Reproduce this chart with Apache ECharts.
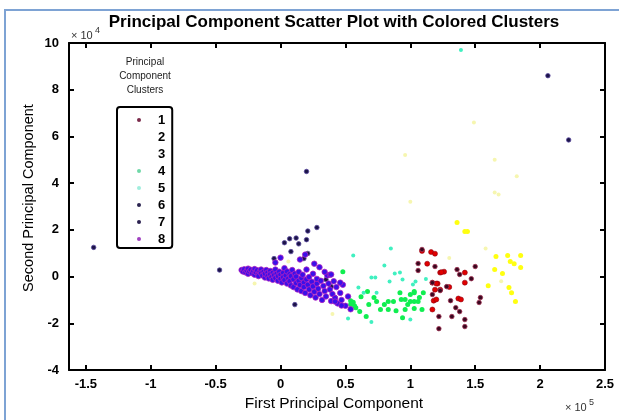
<!DOCTYPE html>
<html>
<head>
<meta charset="utf-8">
<script src="https://cdn.jsdelivr.net/npm/echarts@6/dist/echarts.min.js"></script>
<style>html,body{margin:0;padding:0;background:#fff}#c{width:619px;height:420px}</style>
</head>
<body>
<div id="c"></div>
<script>
// values in displayed units: x in 1e5, y in 1e4
const xTicks = [-1.5, -1, -0.5, 0, 0.5, 1, 1.5, 2, 2.5];
const yTicks = [-4, -2, 0, 2, 4, 6, 8, 10];
const clusterNames = ['1', '2', '3', '4', '5', '6', '7', '8'];

const cluster1 = [[1.09,1.10],[1.16,1.05],[1.19,0.98],[1.23,0.17],[1.26,0.21],[1.24,0.19],[1.42,0.17],[1.42,-0.26],[1.21,-0.30],[1.19,-0.56],[1.18,-1.03],[1.20,-0.98],[1.17,-1.41],[1.37,-0.94],[1.39,-0.98],[1.23,-0.56],[1.17,-0.26],[1.20,-0.30],[1.13,0.55],[1.30,-0.45]];
const cluster2 = [[1.77,0.64],[1.75,0.90],[1.85,0.39],[1.66,0.86],[1.65,0.30],[1.71,0.13],[1.60,-0.39],[1.76,-0.47],[1.78,-0.69],[1.81,-1.07],[1.85,0.90],[1.44,1.93],[1.36,2.31],[1.42,1.93],[1.80,0.55]];
const cluster3 = [[1.68,3.51],[1.49,6.6],[0.96,5.2],[1.65,5.0],[1.65,3.6],[1.0,3.2],[1.82,4.3],[1.58,1.2],[0.06,0.64],[-0.2,-0.3],[0.4,-1.6],[1.3,0.8],[1.7,-0.2]];
const cluster4 = [[0.48,0.21],[0.54,-1.03],[0.54,-1.20],[0.58,-1.33],[0.61,-1.50],[0.67,-0.64],[0.68,-1.20],[0.66,-1.71],[0.62,-0.86],[0.74,-1.07],[0.77,-1.41],[0.83,-1.41],[0.87,-1.07],[0.89,-1.46],[0.92,-0.69],[0.93,-0.98],[0.96,-0.98],[0.96,-1.41],[0.98,-1.20],[1.03,-1.07],[1.03,-0.64],[0.94,-1.76],[0.83,-1.07],[1.00,-0.77],[1.03,-0.69],[1.07,-0.90],[1.06,-1.07],[1.10,-0.69],[1.03,-1.37],[1.09,-1.41],[1.00,-1.07],[0.56,-1.10],[0.57,-1.25],[0.72,-0.90],[0.80,-1.20]];
const cluster5 = [[0.56,0.90],[0.70,-0.04],[0.73,-0.04],[0.80,0.47],[0.85,1.20],[0.88,0.13],[0.92,0.17],[0.84,-0.21],[0.94,-0.13],[1.02,-0.34],[0.60,-0.47],[0.64,-0.69],[0.74,-0.69],[1.00,-1.84],[1.04,-0.21],[1.39,9.70],[0.52,-1.80],[0.70,-1.95],[1.12,-0.10]];
const cluster6 = [[-1.44,1.25],[-0.47,0.28],[2.06,8.6],[2.22,5.85],[0.20,4.5],[0.28,2.1],[0.21,1.95],[0.12,1.65],[0.07,1.62],[0.03,1.45],[0.14,1.40],[0.20,1.58],[0.08,1.07],[0.21,0.99],[0.18,0.77],[-0.05,0.77],[0.35,-0.13],[0.39,-0.43],[0.46,-0.26],[0.42,-0.90],[0.11,-1.20]];
const cluster7 = [[1.09,1.16],[1.06,0.56],[1.06,0.26],[1.19,0.43],[1.36,0.30],[1.38,0.09],[1.50,0.43],[1.47,-0.09],[1.17,-0.26],[1.23,-0.60],[1.17,-0.77],[1.28,-0.43],[1.31,-1.03],[1.35,-1.33],[1.38,-1.50],[1.54,-0.90],[1.53,-1.11],[1.22,-1.71],[1.32,-1.71],[1.42,-1.84],[1.42,-2.14],[1.22,-2.23]];
const cluster8 = [[-0.30,0.28],[-0.29,0.22],[-0.28,0.31],[-0.27,0.18],[-0.26,0.26],[-0.25,0.34],[-0.25,0.12],[-0.24,0.22],[-0.23,0.29],[-0.22,0.15],[-0.21,0.24],[-0.20,0.08],[-0.20,0.32],[-0.19,0.19],[-0.18,0.27],[-0.17,0.11],[-0.17,0.02],[-0.16,0.22],[-0.15,0.30],[-0.15,0.14],[-0.14,0.05],[-0.13,0.21],[-0.12,-0.04],[-0.12,0.12],[-0.11,0.28],[-0.10,0.17],[-0.10,0.02],[-0.09,-0.08],[-0.08,0.24],[-0.08,0.10],[-0.07,-0.02],[-0.06,0.16],[-0.06,-0.14],[-0.05,0.06],[-0.04,0.30],[-0.04,-0.06],[-0.03,0.12],[-0.02,-0.18],[-0.02,0.02],[-0.01,0.21],
[0.00,0.08],[0.00,-0.10],[0.01,-0.25],[0.02,0.16],[0.02,-0.03],[0.03,0.36],[0.03,-0.15],[0.04,0.05],[0.05,-0.30],[0.05,0.22],[0.06,-0.08],[0.07,0.10],[0.07,-0.20],[0.08,-0.38],[0.08,0.02],[0.09,0.28],[0.10,-0.12],[0.10,-0.45],[0.11,0.12],[0.12,-0.28],[0.12,0.00],[0.13,-0.55],[0.14,-0.18],[0.14,0.20],[0.15,-0.36],[0.16,-0.06],[0.16,-0.62],[0.17,0.08],[0.18,-0.25],[0.18,-0.45],[0.19,-0.70],[0.20,-0.12],[0.20,0.30],[0.21,-0.35],[0.22,-0.55],[0.22,-0.02],[0.23,-0.80],[0.24,-0.22],[0.25,-0.42],[0.25,0.12],[0.26,-0.65],[0.27,-0.90],[0.28,-0.30],[0.28,-0.10],[0.29,-0.52],[0.30,-0.75],[0.31,-0.18],[0.32,-1.00],[0.33,-0.40],[0.34,-0.62],[0.35,-0.85],[0.36,0.05],[0.37,-0.30],[0.38,-0.55],[0.39,-1.05],[0.40,-0.75],[0.41,-0.20],[0.42,-0.92],[0.43,-0.45],[0.44,-1.15],[0.46,-0.70],[0.47,-1.00],[0.48,-0.35],[0.50,-1.25],[0.52,-0.85],[0.54,-1.40],
[-0.04,0.60],[0.00,0.81],[0.15,0.73],[0.19,0.94],[0.26,0.55],[0.30,0.40],[0.34,0.20],[0.38,0.08],[0.47,-1.24],[0.42,-1.07],[0.46,-0.26],[0.39,0.09]];

const FONT = 'Liberation Sans, Arial, sans-serif';
const styles = [
  {color:'#e00000', borderColor:'#900010', borderWidth:0.6, size:5},
  {color:'#ffff10', borderColor:'#ffff10', borderWidth:0, size:5},
  {color:'#f6f6b0', borderColor:'#f6f6b0', borderWidth:0, size:4},
  {color:'#10ee50', borderColor:'#10ee50', borderWidth:0, size:5},
  {color:'#40f0c0', borderColor:'#40f0c0', borderWidth:0, size:4},
  {color:'#1c1448', borderColor:'#5a4aa0', borderWidth:0.8, size:4.5},
  {color:'#3a0820', borderColor:'#a03050', borderWidth:0.8, size:4.5},
  {color:'#3a10e8', borderColor:'#b020c0', borderWidth:0.8, size:5.5}
];
const legendColors = ['#7a2a4a','#ffffff','#ffffff','#70d8a8','#a0eedd','#2a2450','#2a2050','#a040c0'];
const allData = [cluster1, cluster2, cluster3, cluster4, cluster5, cluster6, cluster7, cluster8];

const series = allData.map((d, i) => ({
  name: clusterNames[i], type: 'scatter', data: d,
  symbol: 'circle', symbolSize: styles[i].size,
  itemStyle: {color: styles[i].color, borderColor: styles[i].borderColor, borderWidth: styles[i].borderWidth, opacity: 1},
  emphasis: {disabled: true}
}));
const axisLineStyle = {color:'#000', width:2};
const chart = echarts.init(document.getElementById('c'), null, {renderer:'canvas'});
chart.setOption({
  animation: false,
  backgroundColor: '#fff',
  grid: {left:69, right:14, top:43, bottom:50, containLabel:false},
  xAxis: [
    {type:'value', min:-1.63, max:2.5, position:'bottom',
     axisLine:{show:true, onZero:false, lineStyle:axisLineStyle},
     axisTick:{show:true, inside:true, length:5, customValues:xTicks, lineStyle:axisLineStyle},
     axisLabel:{show:true, customValues:xTicks, color:'#000', fontWeight:'bold', fontSize:13, fontFamily:FONT, margin:8},
     splitLine:{show:false}},
    {type:'value', min:-1.63, max:2.5, position:'top',
     axisLine:{show:true, onZero:false, lineStyle:axisLineStyle},
     axisTick:{show:true, inside:true, length:5, customValues:xTicks, lineStyle:axisLineStyle},
     axisLabel:{show:false}, splitLine:{show:false}}
  ],
  yAxis: [
    {type:'value', min:-4, max:10, interval:2, position:'left',
     axisLine:{show:true, onZero:false, lineStyle:axisLineStyle},
     axisTick:{show:true, inside:true, length:5, lineStyle:axisLineStyle},
     axisLabel:{show:true, color:'#000', fontWeight:'bold', fontSize:13, fontFamily:FONT, margin:10},
     splitLine:{show:false}},
    {type:'value', min:-4, max:10, interval:2, position:'right',
     axisLine:{show:true, onZero:false, lineStyle:axisLineStyle},
     axisTick:{show:true, inside:true, length:5, lineStyle:axisLineStyle},
     axisLabel:{show:false}, splitLine:{show:false}}
  ],
  legend: {
    orient:'vertical', left:117, top:107,
    padding:[5,7,1,20], itemGap:1, itemWidth:28, itemHeight:4,
    borderColor:'#000', borderWidth:2, borderRadius:3,
    icon:'circle', selectedMode:false,
    textStyle:{color:'#000', fontWeight:'bold', fontSize:13, fontFamily:FONT, lineHeight:16},
    data: clusterNames.map((n, i) => ({name:n, itemStyle:{color:legendColors[i], borderWidth:0}}))
  },
  graphic: [
    {type:'rect', shape:{x:5, y:10, width:700, height:500}, style:{fill:'none', stroke:'#7ea3d4', lineWidth:2}, silent:true},
    {type:'text', x:334, y:22, style:{text:'Principal Component Scatter Plot with Colored Clusters', font:'bold 17px '+FONT, fill:'#000', textAlign:'center', textVerticalAlign:'middle'}},
    {type:'text', x:71, y:36, style:{text:'× 10', font:'11px '+FONT, fill:'#333', textAlign:'left', textVerticalAlign:'middle'}},
    {type:'text', x:95, y:31, style:{text:'4', font:'9px '+FONT, fill:'#333', textAlign:'left', textVerticalAlign:'middle'}},
    {type:'text', x:565, y:408, style:{text:'× 10', font:'11px '+FONT, fill:'#333', textAlign:'left', textVerticalAlign:'middle'}},
    {type:'text', x:589, y:403, style:{text:'5', font:'9px '+FONT, fill:'#333', textAlign:'left', textVerticalAlign:'middle'}},
    {type:'text', x:334, y:404, style:{text:'First Principal Component', font:'15.5px '+FONT, fill:'#000', textAlign:'center', textVerticalAlign:'middle'}},
    {type:'text', x:29, y:198, rotation:Math.PI/2, style:{text:'Second Principal Component', font:'14.5px '+FONT, fill:'#000', textAlign:'center', textVerticalAlign:'middle'}},
    {type:'text', x:145, y:76, style:{text:'Principal\nComponent\nClusters', font:'10px '+FONT, fill:'#222', textAlign:'center', textVerticalAlign:'middle', lineHeight:14}}
  ],
  series: series
});
</script>
</body>
</html>
